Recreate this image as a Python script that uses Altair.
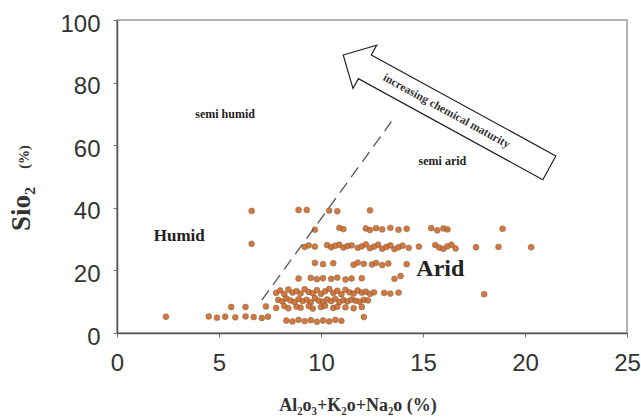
import altair as alt
import pandas as pd

# ---- data ----
x_row39 = [6.6, 8.9, 9.3, 10.4, 10.8, 12.4]
y_row39 = [39.0, 39.3, 39.3, 39.1, 38.9, 39.2]

x_row33 = [9.7, 10.9, 11.1, 12.2, 12.4, 12.7, 13.0, 13.4, 13.8, 14.2, 15.4, 15.7, 16.0, 16.2, 18.9]
y_row33 = [33.0, 33.6, 33.2, 33.4, 32.9, 33.5, 33.1, 33.6, 33.0, 33.3, 33.5, 32.8, 33.4, 33.1, 33.3]

x_row27 = [6.6, 9.2, 9.4, 9.7, 10.3, 10.5, 10.7, 10.9, 11.1, 11.3, 11.5, 11.8, 12.0, 12.2, 12.4,
           12.6, 12.8, 13.0, 13.2, 13.4, 13.6, 13.8, 14.0, 14.3, 14.8, 15.6, 15.8, 16.0, 16.2, 16.4,
           16.6, 17.6, 18.7, 20.3]
y_row27 = [28.5, 27.5, 28.0, 27.6, 28.1, 27.4, 27.9, 28.2, 27.3, 27.8, 28.0, 27.2, 27.7, 28.3, 27.1,
           27.6, 28.2, 26.9, 27.5, 28.0, 26.8, 27.4, 27.9, 27.2, 27.6, 28.1, 27.3, 26.9, 27.7, 28.2,
           27.0, 27.4, 27.5, 27.4]

x_row22 = [9.7, 10.1, 10.6, 11.6, 11.8, 12.1, 12.5, 12.7, 13.0, 13.3, 14.2]
y_row22 = [22.4, 22.0, 22.3, 21.8, 22.5, 22.1, 21.9, 22.4, 21.7, 22.2, 22.0]

x_row17 = [8.9, 9.5, 9.8, 10.1, 10.5, 10.8, 11.2, 11.5, 12.0, 13.6, 13.9]
y_row17 = [17.4, 17.6, 17.2, 17.5, 17.3, 17.7, 17.1, 17.4, 17.5, 17.3, 18.2]

x_row13 = [7.8, 8.0, 8.2, 8.4, 8.6, 8.8, 9.0, 9.2, 9.4, 9.6, 9.8, 10.0, 10.2, 10.4, 10.6,
           10.8, 11.0, 11.2, 11.4, 11.6, 11.8, 12.0, 12.2, 12.4, 12.6, 13.1, 13.4, 13.8, 18.0]
y_row13 = [12.8, 13.6, 12.4, 13.9, 12.9, 13.4, 12.6, 14.0, 13.1, 12.7, 13.7, 12.5, 13.3, 14.1, 12.8,
           13.5, 12.4, 13.8, 13.0, 12.6, 13.6, 12.9, 13.2, 12.5, 13.0, 12.8, 12.6, 12.9, 12.4]

x_row10 = [7.9, 8.1, 8.3, 8.5, 8.7, 8.9, 9.1, 9.3, 9.5, 9.7, 9.9, 10.1, 10.3, 10.5, 10.7,
           10.9, 11.1, 11.3, 11.5, 11.7, 11.9, 12.1, 12.3]
y_row10 = [10.6, 10.1, 11.0, 10.4, 9.9, 10.8, 10.2, 10.6, 9.8, 11.1, 10.3, 10.0, 10.7, 10.2, 10.9,
           9.9, 10.5, 10.1, 10.7, 10.3, 10.0, 10.6, 10.4]

x_row8 = [5.6, 6.3, 7.3, 7.8, 8.2, 8.4, 8.8, 9.0, 9.4, 9.6, 10.0, 10.2, 10.6, 10.8, 11.2, 11.6, 12.0]
y_row8 = [8.3, 8.3, 8.5, 8.0, 8.6, 7.9, 8.4, 8.1, 8.6, 7.8, 8.3, 8.7, 8.0, 8.4, 8.2, 7.9, 8.3]

x_row5 = [2.4, 4.5, 4.9, 5.3, 5.8, 6.3, 6.7, 7.1, 7.4, 8.3, 8.6, 8.9, 9.2, 9.5, 9.8,
          10.1, 10.4, 10.7, 11.0, 12.1]
y_row5 = [5.2, 5.3, 4.9, 5.2, 5.0, 5.3, 5.1, 4.8, 5.2, 4.0, 3.7, 4.2, 3.8, 4.1, 3.6,
          4.0, 3.7, 4.2, 3.9, 5.1]

alkali = x_row39 + x_row33 + x_row27 + x_row22 + x_row17 + x_row13 + x_row10 + x_row8 + x_row5
sio2 = y_row39 + y_row33 + y_row27 + y_row22 + y_row17 + y_row13 + y_row10 + y_row8 + y_row5

# boundary line
line_x = [7.1, 13.45]
line_y = [10.5, 67.5]

# arrow (center, direction) and its caption
arrow_x = [16.14]
arrow_y = [70.8]
arrow_angle = 28.7
arrow_text = ["increasing chemical maturity"]

# field labels
lab_text = ["semi humid", "semi arid", "Humid", "Arid"]
lab_x = [5.3, 15.95, 3.05, 15.85]
lab_y = [70.0, 55.0, 31.0, 20.5]
lab_size = [12, 12, 17, 24]

pts = pd.DataFrame({"x": alkali, "y": sio2})
ln = pd.DataFrame({"x": line_x, "y": line_y})
arr = pd.DataFrame({"x": arrow_x, "y": arrow_y, "t": arrow_text})
labs = pd.DataFrame({"x": lab_x, "y": lab_y, "t": lab_text, "s": lab_size})

xs = alt.Scale(domain=[0, 25], nice=False)
ys = alt.Scale(domain=[0, 100], nice=False)

xaxis = alt.Axis(values=[0, 5, 10, 15, 20, 25], title=None, grid=False,
                 labelFont="Liberation Sans", labelFontSize=24, labelColor="#333",
                 labelPadding=14, tickSize=4, tickColor="#777",
                 domainColor="#555", domainWidth=1.5, labelOverlap=False, labelBound=False,
                 labelFlush=False)
yaxis = alt.Axis(values=[0, 20, 40, 60, 80, 100], title=None, grid=False,
                 labelFont="Liberation Sans", labelFontSize=24, labelColor="#333",
                 labelPadding=13, tickSize=4, tickColor="#777", labelOffset=4,
                 domainColor="#555", domainWidth=1.5, labelOverlap=False, labelBound=False,
                 labelFlush=False)

points = alt.Chart(pts).mark_point(
    filled=True, size=34, color="#d06a28", opacity=0.9,
    stroke="#7d5a44", strokeWidth=0.6
).encode(x=alt.X("x:Q", scale=xs, axis=xaxis), y=alt.Y("y:Q", scale=ys, axis=yaxis))

dashed = alt.Chart(ln).mark_line(color="#555", strokeWidth=1.3, strokeDash=[12, 7]).encode(
    x=alt.X("x:Q", scale=xs), y=alt.Y("y:Q", scale=ys))

arrow_path = "M -1 0 L -0.79 -0.21 L -0.79 -0.115 L 1 -0.115 L 1 0.115 L -0.79 0.115 L -0.79 0.21 Z"
arrow = alt.Chart(arr).mark_point(
    shape=arrow_path, filled=False, stroke="#222", strokeWidth=1.2, opacity=1,
    size=235 * 235, angle=arrow_angle
).encode(x=alt.X("x:Q", scale=xs), y=alt.Y("y:Q", scale=ys))

arrow_lab = alt.Chart(arr).mark_text(
    font="Liberation Serif", fontWeight="bold", fontSize=11.5, color="#333",
    angle=arrow_angle, align="center", baseline="middle"
).encode(x=alt.X("x:Q", scale=xs), y=alt.Y("y:Q", scale=ys), text="t:N")

fields = alt.Chart(labs).mark_text(
    font="Liberation Serif", fontWeight="bold", color="#222", align="center", baseline="middle"
).encode(x=alt.X("x:Q", scale=xs), y=alt.Y("y:Q", scale=ys), text="t:N",
         size=alt.Size("s:Q", scale=None, legend=None))

# axis titles
ytitle_main = alt.Chart(pd.DataFrame({"t": ["Sio₂"]})).mark_text(
    font="Liberation Serif", fontWeight="bold", fontSize=27, color="#333",
    angle=270, align="center", baseline="middle"
).encode(x=alt.value(-95), y=alt.value(189), text="t:N")
ytitle_unit = alt.Chart(pd.DataFrame({"t": ["(%)"]})).mark_text(
    font="Liberation Serif", fontWeight="bold", fontSize=14, color="#333",
    angle=270, align="center", baseline="middle"
).encode(x=alt.value(-92), y=alt.value(137), text="t:N")
xtitle = alt.Chart(pd.DataFrame({"t": ["Al₂o₃+K₂o+Na₂o (%)"]})).mark_text(
    font="Liberation Serif", fontWeight="bold", fontSize=18, color="#333",
    align="center", baseline="middle"
).encode(x=alt.value(241), y=alt.value(386), text="t:N")

chart = alt.layer(points, dashed, arrow, arrow_lab, fields, ytitle_main, ytitle_unit, xtitle).properties(
    width=510, height=313,
    autosize=alt.AutoSizeParams(type="none"),
    padding={"left": 117, "top": 20, "right": 14, "bottom": 85},
    background="white"
).configure_view(stroke="#999", strokeWidth=1.5)

chart.save("out.html", embed_options={"renderer": "svg", "actions": False})
